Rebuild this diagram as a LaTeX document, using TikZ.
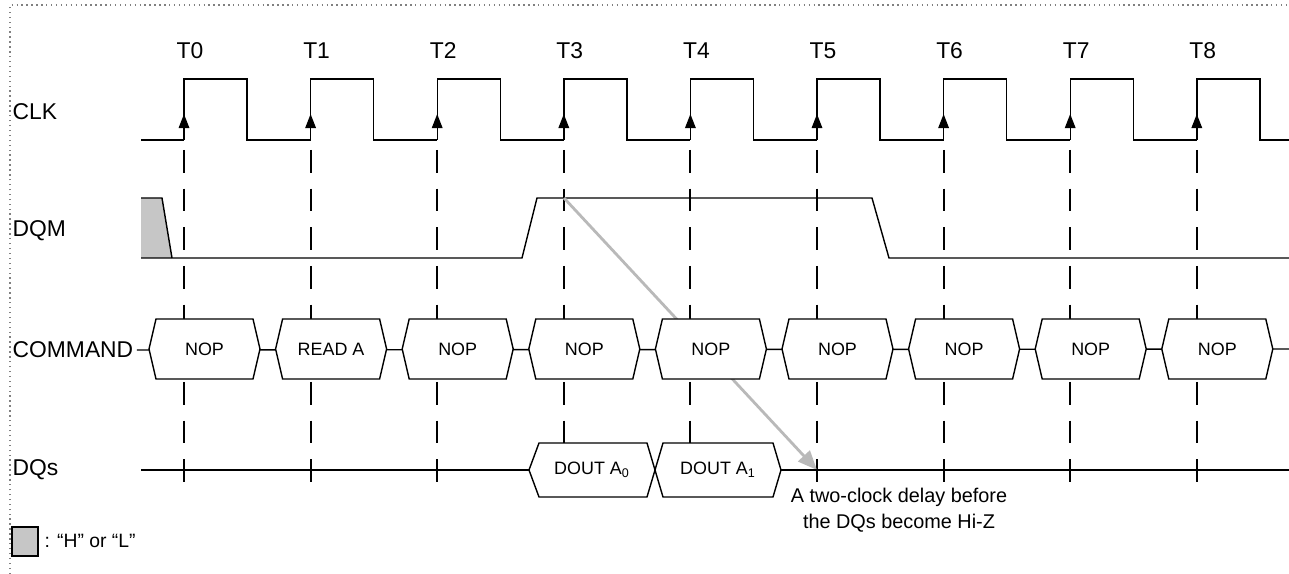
\documentclass[tikz,border=0pt]{standalone}
\usepackage{fontspec}
\setmainfont{Liberation Sans}
\usetikzlibrary{arrows.meta}

\begin{document}
\begin{tikzpicture}[x=0.02cm, y=-0.02cm, line width=0.8pt,
  bus/.style={draw, fill=white, line width=0.8pt},
  tick/.style={dash pattern=on 13pt off 9pt, line width=1.1pt},
  hz/.style={fill=gray!45},
  delay/.style={draw=gray!55, line width=1.6pt, -{Triangle[length=11pt,width=9pt,fill=gray!55]}},
  lbl/.style={anchor=west, font=\fontsize{13}{15}\selectfont, inner sep=0pt},
  cmdtxt/.style={font=\fontsize{10.2}{12}\selectfont, inner sep=0pt},
  note/.style={font=\fontsize{11.3}{14.7}\selectfont, inner sep=0pt, align=center}]
\useasboundingbox (0,0) rectangle (1289,574);
\clip (0,0) rectangle (1289,574);
%\draw[help lines, color=gray!30] (0,0) grid[step=50] (1289,574);
\draw[dotted, gray] (10,574) -- (10,5) -- (1289,5);

% signal names
\node[lbl] (clk) at (12,112) {CLK};
\node[lbl] (dqm) at (12,231) {DQM};
\node[lbl] (cmd) at (12,350) {COMMAND};
\node[lbl] (dqs) at (12,470) {DQs};

% clock, edges and guide lines
\draw (141,140) -- (184,140);
\foreach \i in {0,...,8} {
  \pgfmathsetmacro\xr{184+126.6*\i}
  \node[font=\fontsize{13}{15}\selectfont, inner sep=0pt] (t\i) at (\xr+6,51) {T\i};
  \draw (\xr,140) -- (\xr,79) -- (\xr+63,79) -- (\xr+63,140) -- (\xr+126.6,140);
  \draw[-{Triangle[length=8pt,width=6pt]}] (\xr,140) -- (\xr,114);
  \draw[tick] (\xr,150) -- (\xr,490);
}

% DQM
\fill[hz] (141,198) -- (162,198) -- (172,258) -- (141,258) -- cycle;
\draw (141,198) -- (162,198) -- (172,258);
\draw (141,258) -- (522,258) -- (537,198) -- (872,198) -- (889,258) -- (1289,258);

% two clock delay
\coordinate (hold) at (564,198);
\coordinate (hiz) at (817,470);
\draw[delay] (hold) -- (hiz);

% COMMAND
\draw (cmd.east) ++(3,0) -- (1289,349);
\foreach \n [count=\i from 0] in {NOP,READ A,NOP,NOP,NOP,NOP,NOP,NOP,NOP} {
  \pgfmathsetmacro\xa{149+126.6*\i}
  \draw[bus] (\xa,349) -- (\xa+7,319) -- (\xa+104,319) -- (\xa+111,349)
    -- (\xa+104,379) -- (\xa+7,379) -- cycle;
  \node[cmdtxt] (c\i) at (\xa+55.5,349) {\n};
}

% DQs
\draw (141,470) -- (1289,470);
\draw[bus] (529,470) -- (539,443) -- (647,443) -- (655,470) -- (647,497) -- (539,497) -- cycle;
\draw[bus] (655,470) -- (663,443) -- (773,443) -- (781,470) -- (773,497) -- (663,497) -- cycle;
\node[cmdtxt] (a0) at (592,470) {DOUT A\textsubscript{0}};
\node[cmdtxt] (a1) at (718,470) {DOUT A\textsubscript{1}};
\node[note] (delaytxt) at (899,510) {A two-clock delay before\\the DQs become Hi-Z};

% key
\draw[hz, draw=black, line width=0.6pt] (12,527) rectangle (38,556);
\node[anchor=west, font=\fontsize{11}{13}\selectfont, inner sep=0pt] (key) at (44,541) {: “H” or “L”};
\end{tikzpicture}
\end{document}
